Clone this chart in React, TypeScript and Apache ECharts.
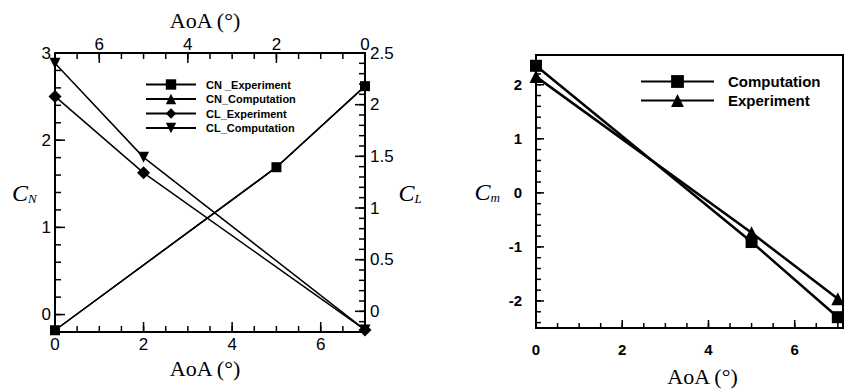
import React, { useEffect, useRef } from 'react';
import * as echarts from 'echarts';

// ---------- data ----------
const aoa = [0, 5, 7];
const cnExperiment = [-0.18, 1.69, 2.62];
const cnComputation = [-0.18, 1.69, 2.62];
const clExperiment = [-0.18, 1.34, 2.08];
const clComputation = [-0.18, 1.49, 2.4];
const cmComputation = [2.35, -0.91, -2.3];
const cmExperiment = [2.15, -0.74, -1.96];

const leftLegend = ['CN _Experiment', 'CN_Computation', 'CL_Experiment', 'CL_Computation'];
const rightLegend = ['Computation', 'Experiment'];

// ---------- axis ranges and tick values ----------
const aoaRange = [0, 7];
const aoaRangeRight = [0, 7.12];
const cnRange = [-0.2, 3];
const clRange = [-0.2, 2.5];
const cmRange = [-2.5, 2.55];

const aoaMajorTicks = [0, 2, 4, 6];
const cnMajorTicks = [0, 1, 2, 3];
const clMajorTicks = [0, 0.5, 1, 1.5, 2, 2.5];
const cmMajorTicks = [-2, -1, 0, 1, 2];

const range = (a: number, b: number, step: number) => {
  const out: number[] = [];
  const n = Math.round((b - a) / step);
  for (let i = 0; i <= n; i++) out.push(Math.round((a + i * step) * 1000) / 1000);
  return out;
};
const aoaMinorTicks = range(0, 7, 0.5);
const cnMinorTicks = range(-0.2, 3, 0.2);
const clMinorTicks = range(-0.2, 2.5, 0.1);
const cmMinorTicks = range(-2.4, 2.4, 0.2);

const SANS = '"Liberation Sans", Arial, sans-serif';
const SERIF = '"Liberation Serif", "Times New Roman", serif';

// plot boxes (layout)
const LEFT_BOX = { left: 55, top: 53, width: 310, height: 279 };
const RIGHT_BOX = { left: 536, top: 55, width: 307, height: 273 };

const pairs = (ys: number[]) => aoa.map((a, i) => [a, ys[i]]);

const stepLabel = (step: number) => (v: number) => {
  const r = Math.round(v / step) * step;
  return Math.abs(v - r) < 1e-6 ? String(Math.round(v * 100) / 100) : '';
};

function axis(o: any) {
  const { labelStyle, step, ...rest } = o;
  return {
    type: 'value',
    splitLine: { show: false },
    axisLine: { show: true, onZero: false, lineStyle: { color: '#000', width: 2 } },
    axisTick: { show: false },
    axisLabel: { ...labelStyle, formatter: stepLabel(step) },
    ...rest,
  };
}

// one short line segment per tick, placed through the axes' own scales
function tickSeries(xi: number, yi: number, segs: number[][][], width: number) {
  return segs.map((seg) => ({
    name: 'tick', type: 'line', xAxisIndex: xi, yAxisIndex: yi, data: seg,
    symbol: 'none', showSymbol: false, clip: false, silent: true, z: 4,
    lineStyle: { color: '#000', width },
  }));
}

const leftLabel = { show: true, fontFamily: SANS, fontSize: 17, color: '#000' };
const rightLabel = { show: true, fontFamily: SANS, fontSize: 15, fontWeight: 'bold', color: '#000' };

const aoaName = { fontFamily: SERIF, fontSize: 22, color: '#000' };
const richC = () => ({
  c: { fontFamily: SERIF, fontStyle: 'italic', fontSize: 24, color: '#000' },
  s: { fontFamily: SERIF, fontStyle: 'italic', fontSize: 13, color: '#000', verticalAlign: 'bottom', padding: [10, 0, 0, 0] },
});

export default function App() {
  const ref = useRef<HTMLDivElement>(null);
  useEffect(() => {
    if (!ref.current) return;
    const chart = echarts.init(ref.current, undefined, { renderer: 'svg' });
    const lineL = { color: '#000', width: 1.5 };
    const lineR = { color: '#000', width: 2.5 };
    const TW = 1.5;

    // data units per pixel on each axis (from the plot box sizes)
    const uxL = (aoaRange[1] - aoaRange[0]) / LEFT_BOX.width;
    const uCN = (cnRange[1] - cnRange[0]) / LEFT_BOX.height;
    const uCL = (clRange[1] - clRange[0]) / LEFT_BOX.height;
    const uxR = (aoaRangeRight[1] - aoaRangeRight[0]) / RIGHT_BOX.width;
    const uCm = (cmRange[1] - cmRange[0]) / RIGHT_BOX.height;

    const vSeg = (vals: number[], base: number, len: number) => vals.map((v) => [[v, base], [v, base + len]]);
    const hSeg = (vals: number[], base: number, len: number) => vals.map((v) => [[base, v], [base + len, v]]);

    const tickList = [
      // left chart: bottom AoA
      ...tickSeries(0, 0, vSeg(aoaMinorTicks, cnRange[0], 6 * uCN), TW),
      ...tickSeries(0, 0, vSeg(aoaMajorTicks, cnRange[0], 10 * uCN), TW),
      // left chart: top AoA (reversed)
      ...tickSeries(1, 1, vSeg(aoaMinorTicks, clRange[1], -6 * uCL), TW),
      ...tickSeries(1, 1, vSeg(aoaMajorTicks, clRange[1], -10 * uCL), TW),
      // left chart: CN
      ...tickSeries(0, 0, hSeg(cnMinorTicks, aoaRange[0], 6 * uxL), TW),
      ...tickSeries(0, 0, hSeg(cnMajorTicks, aoaRange[0], 10 * uxL), TW),
      // left chart: CL (on the reversed top axis, so AoA 0 is the right edge)
      ...tickSeries(1, 1, hSeg(clMinorTicks, aoaRange[0], 6 * uxL), TW),
      ...tickSeries(1, 1, hSeg(clMajorTicks, aoaRange[0], 10 * uxL), TW),
      // right chart
      ...tickSeries(2, 2, vSeg(aoaMinorTicks, cmRange[0], 5 * uCm), TW),
      ...tickSeries(2, 2, vSeg(aoaMajorTicks, cmRange[0], 8 * uCm), TW),
      ...tickSeries(2, 2, hSeg(cmMinorTicks, aoaRangeRight[0], 5 * uxR), TW),
      ...tickSeries(2, 2, hSeg(cmMajorTicks, aoaRangeRight[0], 8 * uxR), TW),
    ];

    chart.setOption({
      animation: false,
      backgroundColor: '#fff',
      grid: [
        { ...LEFT_BOX },
        { ...RIGHT_BOX, show: true, borderColor: '#000', borderWidth: 2 },
      ],
      legend: [
        {
          left: 145, top: 79, padding: 0, orient: 'vertical', itemWidth: 50, itemHeight: 13, itemGap: 3.5,
          selectedMode: false, data: leftLegend,
          textStyle: { fontFamily: SANS, fontWeight: 'bold', fontSize: 11, color: '#000', padding: [0, 0, 0, 5] },
        },
        {
          left: 640, top: 74, padding: 0, orient: 'vertical', itemWidth: 73, itemHeight: 16, itemGap: 4,
          selectedMode: false, data: rightLegend,
          textStyle: { fontFamily: SANS, fontWeight: 'bold', fontSize: 15, color: '#000', padding: [0, 0, 0, 9] },
        },
      ],
      xAxis: [
        axis({
          gridIndex: 0, position: 'bottom', min: aoaRange[0], max: aoaRange[1], interval: 2, step: 2,
          labelStyle: { ...leftLabel, margin: 4 },
          name: 'AoA (°)', nameLocation: 'middle', nameGap: 25,
          nameTextStyle: { ...aoaName, padding: [0, 10, 0, 0] },
        }),
        axis({
          gridIndex: 0, position: 'top', inverse: true, min: aoaRange[0], max: aoaRange[1], interval: 2, step: 2,
          labelStyle: { ...leftLabel, margin: 0 },
          name: 'AoA (°)', nameLocation: 'middle', nameGap: 21,
          nameTextStyle: { ...aoaName, padding: [0, 10, 0, 0] },
        }),
        axis({
          gridIndex: 1, position: 'bottom', min: aoaRangeRight[0], max: aoaRangeRight[1], interval: 2, step: 2,
          labelStyle: { ...rightLabel, margin: 14 },
          name: 'AoA (°)', nameLocation: 'middle', nameGap: 37,
          nameTextStyle: { ...aoaName, padding: [0, 0, 0, 26] },
        }),
      ],
      yAxis: [
        axis({
          gridIndex: 0, position: 'left', min: cnRange[0], max: cnRange[1], splitNumber: 3, minInterval: 1, maxInterval: 1,
          step: 1, labelStyle: { ...leftLabel, margin: 4 },
          name: '{c|C}{s|N}', nameLocation: 'middle', nameRotate: 0, nameGap: 18,
          nameTextStyle: { rich: richC() },
        }),
        axis({
          gridIndex: 0, position: 'right', min: clRange[0], max: clRange[1], splitNumber: 5, minInterval: 0.5, maxInterval: 0.5,
          step: 0.5, labelStyle: { ...leftLabel, margin: 5 },
          name: '{c|C}{s|L}', nameLocation: 'middle', nameRotate: 0, nameGap: 27,
          nameTextStyle: { rich: richC() },
        }),
        axis({
          gridIndex: 1, position: 'left', min: cmRange[0], max: cmRange[1], splitNumber: 5, minInterval: 1, maxInterval: 1,
          step: 1, labelStyle: { ...rightLabel, margin: 14 },
          name: '{c|C}{s|m}', nameLocation: 'middle', nameRotate: 0, nameGap: 36,
          nameTextStyle: { rich: richC() },
        }),
      ],
      series: [
        ...tickList,
        {
          name: leftLegend[0], type: 'line', xAxisIndex: 0, yAxisIndex: 0, data: pairs(cnExperiment),
          symbol: 'rect', symbolSize: 10, clip: false, lineStyle: lineL, itemStyle: { color: '#000' }, z: 3,
        },
        {
          name: leftLegend[1], type: 'line', xAxisIndex: 0, yAxisIndex: 0, data: pairs(cnComputation),
          symbol: 'triangle', symbolSize: 9, clip: false, lineStyle: lineL, itemStyle: { color: '#000' }, z: 3,
        },
        {
          name: leftLegend[2], type: 'line', xAxisIndex: 1, yAxisIndex: 1, data: pairs(clExperiment),
          symbol: 'diamond', symbolSize: 13, clip: false, lineStyle: lineL, itemStyle: { color: '#000' }, z: 3,
        },
        {
          name: leftLegend[3], type: 'line', xAxisIndex: 1, yAxisIndex: 1, data: pairs(clComputation),
          symbol: 'triangle', symbolRotate: 180, symbolSize: 11, clip: false, lineStyle: lineL, itemStyle: { color: '#000' }, z: 3,
        },
        {
          name: rightLegend[0], type: 'line', xAxisIndex: 2, yAxisIndex: 2, data: pairs(cmComputation),
          symbol: 'rect', symbolSize: 12, clip: false, lineStyle: lineR, itemStyle: { color: '#000' }, z: 3,
        },
        {
          name: rightLegend[1], type: 'line', xAxisIndex: 2, yAxisIndex: 2, data: pairs(cmExperiment),
          symbol: 'triangle', symbolSize: 13, clip: false, lineStyle: lineR, itemStyle: { color: '#000' }, z: 3,
        },
      ],
    });
    return () => chart.dispose();
  }, []);
  return (
    <div
      ref={ref}
      style={{ position: 'absolute', left: 0, top: 0, width: 853, height: 392, background: '#fff' }}
    />
  );
}
